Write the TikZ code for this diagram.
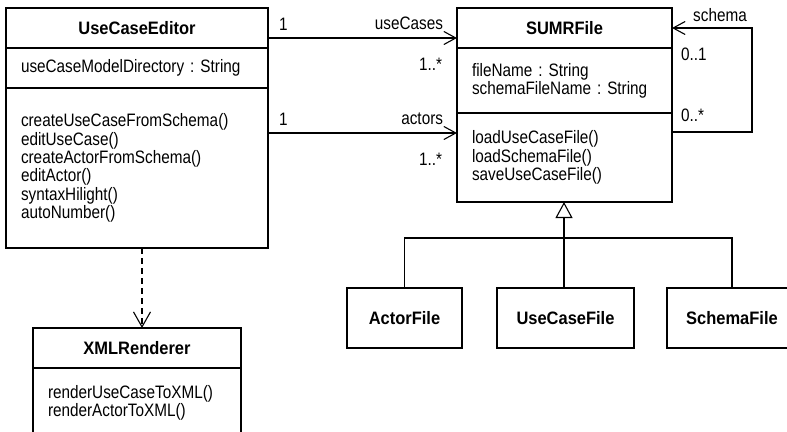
\documentclass[tikz,border=0pt]{standalone}
\usepackage{fontspec}
\setmainfont{Liberation Sans}[FakeStretch=0.85, BoldFeatures={FakeStretch=0.915}]
\usetikzlibrary{arrows.meta, positioning}

\begin{document}
\frenchspacing
\begin{tikzpicture}[
    x=1pt, y=-1pt,
    font=\fontsize{18pt}{18.3pt}\selectfont,
    line width=1.1pt,
    every node/.style={inner sep=0pt, outer sep=0pt},
    classhead/.style={draw, font=\fontsize{18pt}{18.3pt}\selectfont\bfseries, minimum height=40pt, anchor=north west},
    classpart/.style={draw, align=left, inner xsep=15pt},
    subclass/.style={draw, font=\fontsize{18pt}{18.3pt}\selectfont\bfseries, minimum height=60pt, anchor=north west},
    assoc/.style={-{Straight Barb[length=12pt, width=13pt]}},
    gen/.style={-{Triangle[open, length=16pt, width=17pt]}},
    dep/.style={dashed, dash pattern=on 6pt off 4pt, -{Straight Barb[length=15pt, width=17pt]}}
]

    \useasboundingbox (0,0) rectangle (787,431);
    \clip (0,0) rectangle (787,431);

    % USE CASE EDITOR
    \node (uce) [classhead, minimum width=262pt] at (6,8) {UseCaseEditor};
    \node (uceattr) [classpart, text width=232pt, minimum height=40pt, below=0pt of uce] {useCaseModelDirectory : String};
    \node (ucemeth) [classpart, text width=232pt, minimum height=160pt, below=0pt of uceattr] {createUseCaseFromSchema()\\ editUseCase()\\ createActorFromSchema()\\ editActor()\\ syntaxHilight()\\ autoNumber()};

    % SUMR FILE
    \node (sumr) [classhead, minimum width=215pt] at (457,8) {SUMRFile};
    \node (sumrattr) [classpart, text width=185pt, minimum height=65pt, below=0pt of sumr] {fileName : String\\ schemaFileName : String};
    \node (sumrmeth) [classpart, text width=185pt, minimum height=89pt, below=0pt of sumrattr] {loadUseCaseFile()\\ loadSchemaFile()\\ saveUseCaseFile()};

    % XML RENDERER
    \node (xmlr) [classhead, minimum width=208pt] at (33,328) {XMLRenderer};
    \node (xmlrmeth) [classpart, text width=178pt, minimum height=70pt, below=0pt of xmlr] {renderUseCaseToXML()\\ renderActorToXML()};

    % SUBCLASSES
    \node (actorf) [subclass, minimum width=115pt] at (347,288) {ActorFile};
    \node (usecasef) [subclass, minimum width=137pt] at (497,288) {UseCaseFile};
    \node (schemaf) [subclass, minimum width=130pt] at (667,288) {SchemaFile};

    % ASSOCIATIONS
    \draw [assoc] ([yshift=-10pt]uce.east) -- ([yshift=-10pt]sumr.west)
        node [at start, anchor=south west, xshift=11pt, yshift=8pt] {1}
        node [at end, anchor=south east, xshift=-14pt, yshift=8pt] {useCases}
        node [at end, anchor=north east, xshift=-15pt, yshift=-20pt] {1..*};
    \draw [assoc] ([yshift=-45pt]ucemeth.north east) -- ([yshift=-20pt]sumrmeth.north west)
        node [at start, anchor=south west, xshift=11pt, yshift=8pt] {1}
        node [at end, anchor=south east, xshift=-14pt, yshift=8pt] {actors}
        node [at end, anchor=north east, xshift=-15pt, yshift=-20pt] {1..*};

    % SELF ASSOCIATION
    \draw [assoc] ([yshift=-19pt]sumrmeth.north east) -- ++(80,0) |- (sumr.east)
        node [pos=0.7, anchor=south, yshift=6pt] {schema}
        node [at end, anchor=north west, xshift=9pt, yshift=-20pt] {0..1};
    \node (zeromany) [anchor=south west, xshift=9pt, yshift=10pt] at ([yshift=-19pt]sumrmeth.north east) {0..*};

    % GENERALIZATION
    \coordinate (genjoin) at (564,238);
    \draw [gen] (usecasef.north -| genjoin) -- (sumrmeth.south -| genjoin);
    \draw (actorf.north) |- (genjoin) -| (schemaf.north);

    % DEPENDENCY
    \draw [dep] ([xshift=5pt]ucemeth.south) -- ([xshift=5pt]xmlr.north);

\end{tikzpicture}
\end{document}
